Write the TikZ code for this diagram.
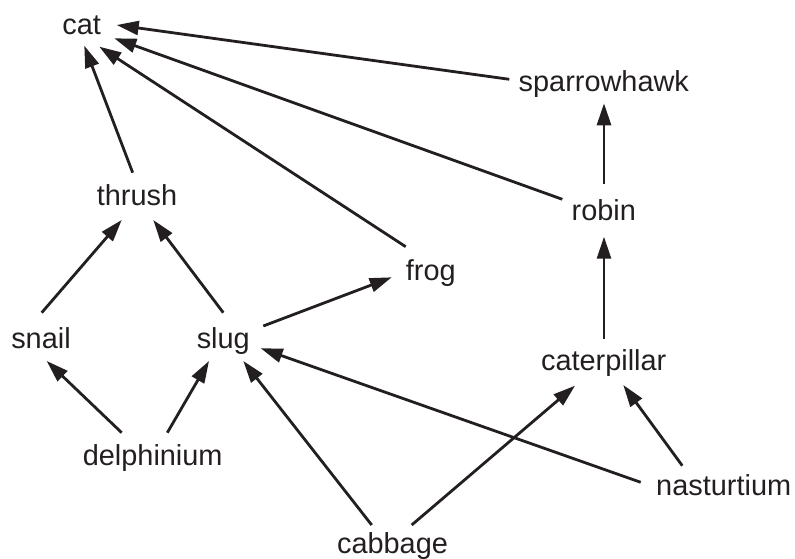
\documentclass[tikz,border=0pt]{standalone}
\usepackage{fontspec}
\setmainfont{Liberation Sans}
\usetikzlibrary{arrows.meta}
\definecolor{ink}{HTML}{231F20}
\begin{document}
\begin{tikzpicture}[x=1pt,y=-1pt,
  lbl/.style={anchor=base,inner sep=0pt,text=ink,font=\fontsize{28.9}{34}\selectfont,text height=0.75em,text depth=0.25em},
  arr/.style={draw=ink,line width=2.8pt,-{Triangle[length=22pt,width=14pt]}}]
\useasboundingbox (0,0) rectangle (795,559);
\node[lbl] (cat) at (81.7,35) {cat};
\node[lbl] (sparrowhawk) at (603.8,91.7) {sparrowhawk};
\node[lbl] (thrush) at (137,205) {thrush};
\node[lbl] (robin) at (603.8,220) {robin};
\node[lbl] (frog) at (430.8,280) {frog};
\node[lbl] (snail) at (41,348) {snail};
\node[lbl] (slug) at (223.3,348) {slug};
\node[lbl] (caterpillar) at (603.7,370) {caterpillar};
\node[lbl] (delphinium) at (152.7,465.7) {delphinium};
\node[lbl] (nasturtium) at (723.7,495) {nasturtium};
\node[lbl] (cabbage) at (392.5,553) {cabbage};
\draw[arr] ([shift={(-94.5,-12.4)}]sparrowhawk.base) -- ([shift={(35,-10)}]cat.base);
\draw[arr] ([shift={(-41.5,-20.7)}]robin.base) -- ([shift={(32.6,3.3)}]cat.base);
\draw[arr] ([shift={(-25.1,-33.3)}]frog.base) -- ([shift={(17.6,11.7)}]cat.base);
\draw[arr] ([shift={(-4.3,-32.3)}]thrush.base) -- ([shift={(2.6,10.7)}]cat.base);
\draw[arr] ([shift={(0.2,-36)}]robin.base) -- ([shift={(0.2,11.6)}]sparrowhawk.base);
\draw[arr] ([shift={(0.3,-30.7)}]caterpillar.base) -- ([shift={(0.2,16.7)}]robin.base);
\draw[arr] ([shift={(0.7,-35.3)}]snail.base) -- ([shift={(-15.3,15)}]thrush.base);
\draw[arr] ([shift={(0,-35.3)}]slug.base) -- ([shift={(16.3,15)}]thrush.base);
\draw[arr] ([shift={(40,-22)}]slug.base) -- ([shift={(-39.1,-2.7)}]frog.base);
\draw[arr] ([shift={(-31,-33)}]delphinium.base) -- ([shift={(5.7,13)}]snail.base);
\draw[arr] ([shift={(14.6,-33)}]delphinium.base) -- ([shift={(-14.3,13)}]slug.base);
\draw[arr] ([shift={(-20.8,-28)}]cabbage.base) -- ([shift={(20,13)}]slug.base);
\draw[arr] ([shift={(-83,-12.7)}]nasturtium.base) -- ([shift={(37.4,0.3)}]slug.base);
\draw[arr] ([shift={(19.2,-28)}]cabbage.base) -- ([shift={(-28.7,15.7)}]caterpillar.base);
\draw[arr] ([shift={(-41.4,-29.3)}]nasturtium.base) -- ([shift={(19.6,15)}]caterpillar.base);
\end{tikzpicture}
\end{document}
